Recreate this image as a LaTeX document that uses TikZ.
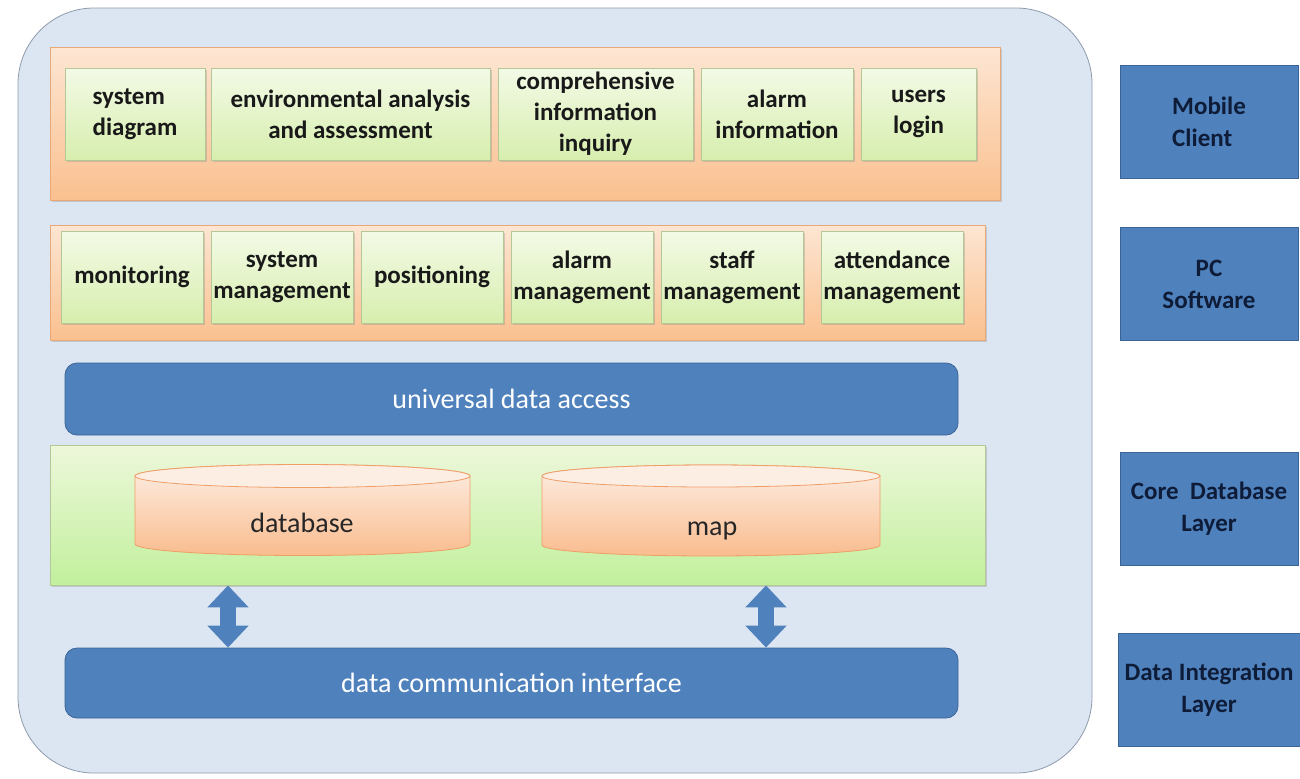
\documentclass[tikz,border=0pt]{standalone}
\usepackage{fontspec}
\setmainfont{Carlito}
\usetikzlibrary{shadows,arrows.meta}

\definecolor{framefill}{HTML}{DCE6F2}
\definecolor{frameedge}{HTML}{8E9AAC}
\definecolor{orangetop}{HTML}{FDE6D3}
\definecolor{orangebot}{HTML}{FAC08F}
\definecolor{orangeedge}{HTML}{E9A877}
\definecolor{greentop}{HTML}{F3FAE6}
\definecolor{greenbot}{HTML}{D7EEAE}
\definecolor{greenedge}{HTML}{B4C796}
\definecolor{layerblue}{HTML}{4F81BD}
\definecolor{layeredge}{HTML}{3A6496}
\definecolor{cyltop}{HTML}{FDEEE4}
\definecolor{cylbot}{HTML}{F9BC8E}
\definecolor{cyledge}{HTML}{EE9E68}
\definecolor{sidetext}{HTML}{0E1C38}

\tikzset{
  panel/.style={draw=orangeedge, top color=orangetop, bottom color=orangebot,
    drop shadow={shadow xshift=1.2pt, shadow yshift=-1.2pt, opacity=.3}},
  module/.style={draw=greenedge, top color=greentop, bottom color=greenbot,
    minimum height=46pt, inner sep=1pt, align=center, text=black!90,
    font=\fontsize{12.5}{15.5}\selectfont\bfseries,
    drop shadow={shadow xshift=1pt, shadow yshift=-1pt, opacity=.3}},
  layerbar/.style={draw=layeredge, fill=layerblue, rounded corners=6pt,
    text=white, font=\fontsize{14}{16}\selectfont},
  sidebox/.style={draw=layeredge, fill=layerblue, minimum width=89pt,
    minimum height=56.5pt, align=center, text=sidetext,
    font=\fontsize{12.5}{16}\selectfont\bfseries},
  cylbody/.style={draw=cyledge, top color=cyltop, bottom color=cylbot},
  cylcap/.style={draw=cyledge, fill=cyltop},
  duplex/.style={draw=layerblue, line width=8pt,
    {Triangle[width=20pt,length=11pt]}-{Triangle[width=20pt,length=11pt]}}
}

\begin{document}
\begin{tikzpicture}[x=0.5pt,y=-0.5pt]
	\useasboundingbox (0,0) rectangle (1300,778);
	% outer frame
	\node[draw=frameedge, fill=framefill, rounded corners=38pt, minimum width=537pt, minimum height=382.5pt] (frame) at (555,390.5) {};
	% client layer
	\node[panel, minimum width=475pt, minimum height=76.5pt] (apppanel) at (525,123.5) {};
	\node[module, minimum width=70pt, align=left] (sysdiag) at (135,114) {system\\diagram};
	\node[module, minimum width=139.5pt] (envana) at (350.5,114) {environmental analysis\\and assessment};
	\node[module, minimum width=97.5pt] (compinq) at (595.5,114) {comprehensive\\information\\inquiry};
	\node[module, minimum width=76pt] (alarminfo) at (777,114) {alarm\\information};
	\node[module, minimum width=57.5pt] (userlogin) at (918.5,114) {users\\login};
	% pc software layer
	\node[panel, minimum width=467.5pt, minimum height=57.5pt] (mgmtpanel) at (517.5,282.5) {};
	\node[module, minimum width=71pt] (monitor) at (132,277) {monitoring};
	\node[module, minimum width=71pt] (sysmgmt) at (282,277) {system\\management};
	\node[module, minimum width=71pt] (position) at (432,277) {positioning};
	\node[module, minimum width=71pt] (alarmmgmt) at (582,277) {alarm\\management};
	\node[module, minimum width=71pt] (staffmgmt) at (732,277) {staff\\management};
	\node[module, minimum width=71pt] (attendmgmt) at (892,277) {attendance\\management};
	% data access
	\node[layerbar, minimum width=446.5pt, minimum height=36pt] (uda) at (511.5,399) {universal data access};
	% core database
	\node[draw=greenedge, top color=greentop!80!greenbot, bottom color=greenbot!90!green, minimum width=467.5pt, minimum height=70pt,
		drop shadow={shadow xshift=1.2pt, shadow yshift=-1.2pt, opacity=.3}] (storepanel) at (517.5,515) {};
	\coordinate (dbtop) at (302.5,476);
	\coordinate (dbbot) at (302.5,544);
	\path[cylbody] ([xshift=-83.75pt]dbtop) -- ([xshift=-83.75pt]dbbot)
		arc[start angle=180, end angle=360, x radius=83.75pt, y radius=5.75pt]
		-- ([xshift=83.75pt]dbtop)
		arc[start angle=0, end angle=180, x radius=83.75pt, y radius=5.75pt] -- cycle;
	\draw[cylcap] (dbtop) ellipse[x radius=83.75pt, y radius=5.75pt];
	\node[font=\fontsize{14}{16}\selectfont, text=black!85] (dbtext) at (302,523) {database};
	\coordinate (maptop) at (711,476);
	\coordinate (mapbot) at (711,545);
	\path[cylbody] ([xshift=-84.5pt]maptop) -- ([xshift=-84.5pt]mapbot)
		arc[start angle=180, end angle=360, x radius=84.5pt, y radius=5.5pt]
		-- ([xshift=84.5pt]maptop)
		arc[start angle=0, end angle=180, x radius=84.5pt, y radius=5.5pt] -- cycle;
	\draw[cylcap] (maptop) ellipse[x radius=84.5pt, y radius=5.5pt];
	\node[font=\fontsize{14}{16}\selectfont, text=black!85] (maptext) at (712,531) {map};
	% data integration
	\node[layerbar, minimum width=446.5pt, minimum height=35pt] (dci) at (511.5,683) {data communication interface};
	\coordinate (linkL) at (228,615);
	\coordinate (linkR) at (766,615);
	\draw[duplex] (linkL |- storepanel.south) -- (linkL |- dci.north);
	\draw[duplex] (linkR |- storepanel.south) -- (linkR |- dci.north);
	% layer names
	\node[sidebox, align=left] (mobile) at (1209,121.5) {Mobile\\Client};
	\node[sidebox] (pcsoft) at (1209,284) {PC\\Software};
	\node[sidebox] (coredb) at (1209,508.5) {Core~ Database\\Layer};
	\node[sidebox] (dataint) at (1209,689.5) {Data Integration\\Layer};
\end{tikzpicture}
\end{document}
